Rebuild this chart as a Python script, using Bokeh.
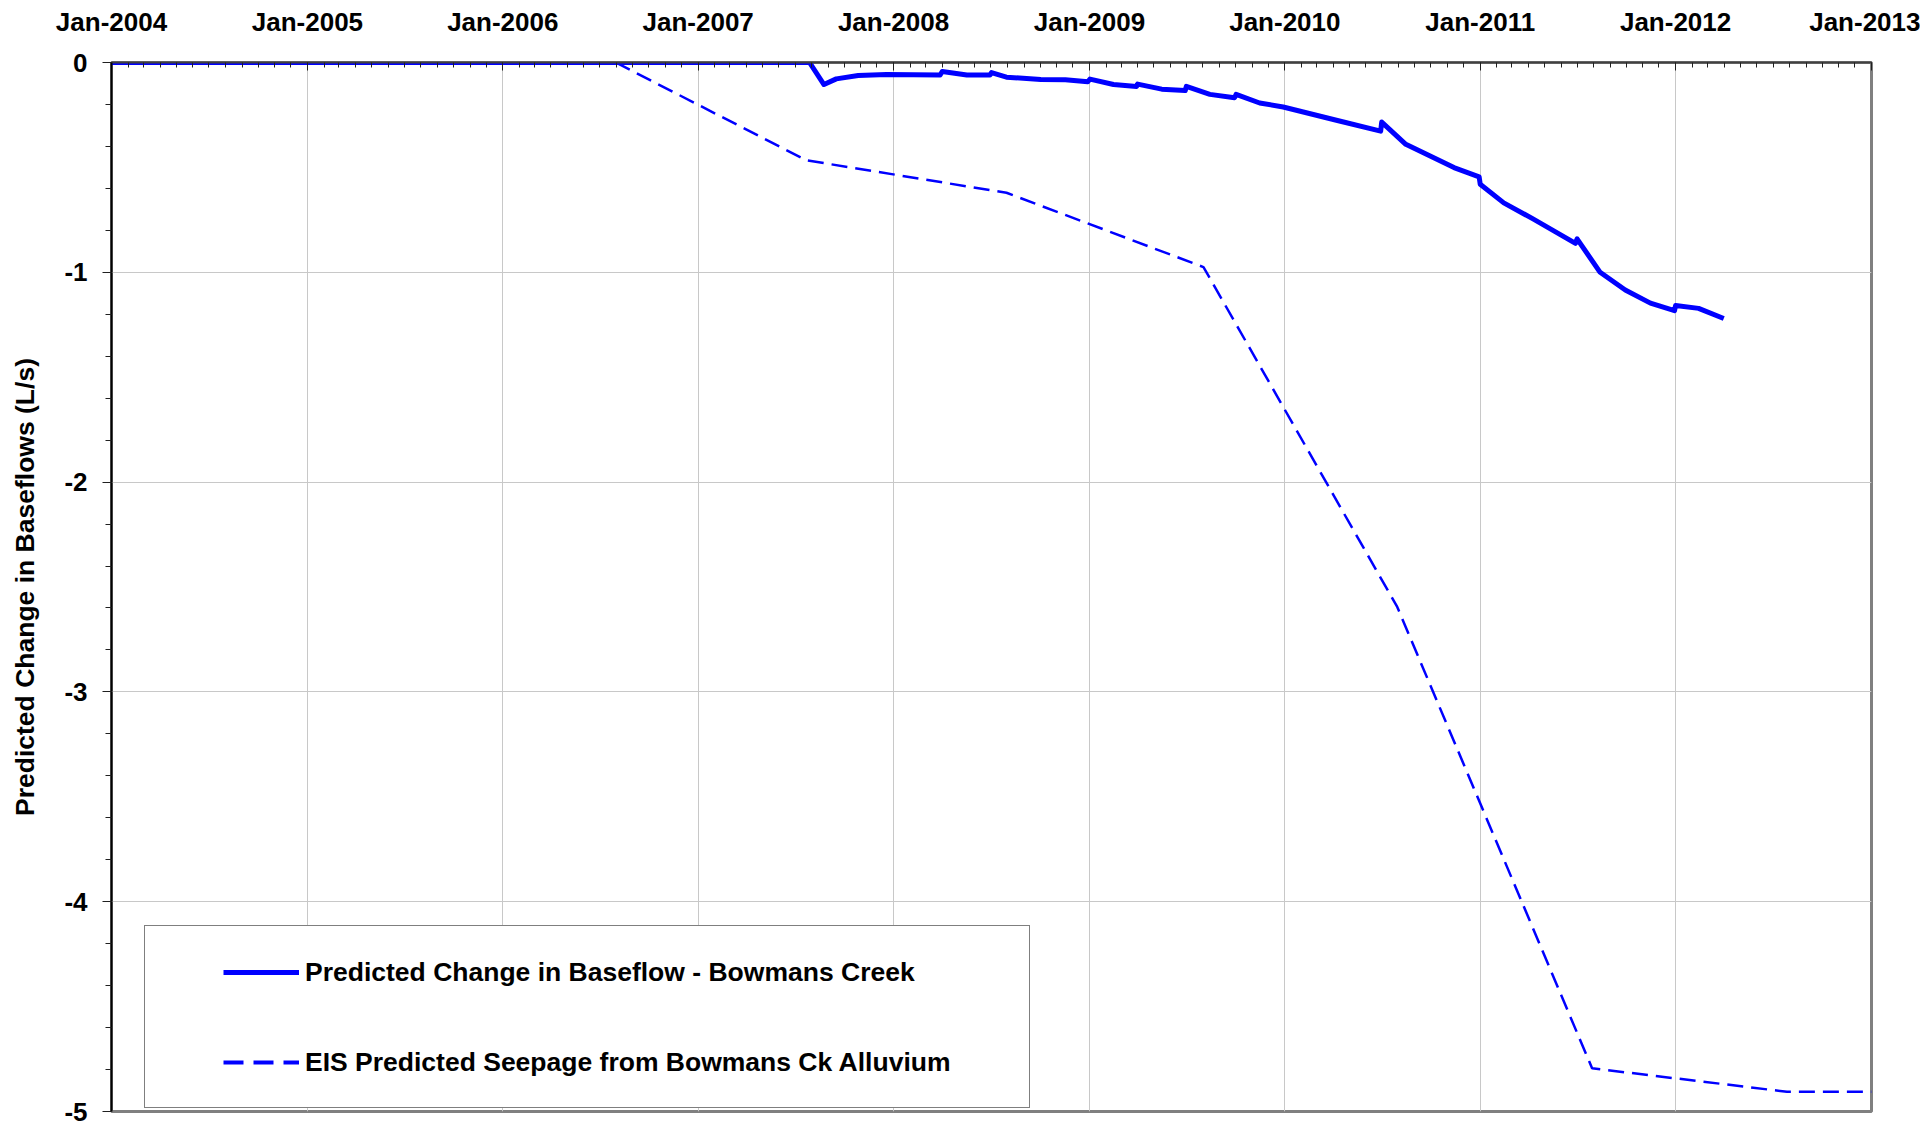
import pandas as pd
from bokeh.plotting import figure
from bokeh.models import (Range1d, FixedTicker, DatetimeAxis, LinearAxis, Grid,
                          Legend, LegendItem, DatetimeTickFormatter)
from bokeh.embed import file_html
from bokeh.resources import INLINE

# ---- data ----
baseflow_dates = [
    "2004-01-01", "2007-07-28", "2007-08-24", "2007-09-16", "2007-10-27", "2007-12-19",
    "2008-03-28", "2008-04-01", "2008-05-17", "2008-06-29", "2008-07-02", "2008-07-30",
    "2008-10-02", "2008-11-17", "2008-12-29", "2009-01-02", "2009-02-15", "2009-03-30",
    "2009-04-01", "2009-05-16", "2009-06-29", "2009-07-01", "2009-08-14", "2009-09-29",
    "2009-10-02", "2009-11-15", "2009-12-29", "2010-04-13", "2010-06-29", "2010-07-01",
    "2010-08-15", "2010-11-13", "2010-12-30", "2011-01-01", "2011-02-14", "2011-04-08",
    "2011-06-28", "2011-07-01", "2011-08-13", "2011-09-29", "2011-11-15", "2011-12-30",
    "2012-01-01", "2012-02-13", "2012-03-31",
]
baseflow_values = [
    0.0, 0.0, -0.105, -0.078, -0.062, -0.057,
    -0.060, -0.043, -0.060, -0.060, -0.048, -0.070,
    -0.081, -0.082, -0.092, -0.079, -0.105, -0.114,
    -0.103, -0.127, -0.134, -0.114, -0.152, -0.168,
    -0.152, -0.193, -0.212, -0.279, -0.327, -0.284,
    -0.390, -0.501, -0.545, -0.580, -0.669, -0.743,
    -0.862, -0.841, -1.000, -1.084, -1.147, -1.183,
    -1.158, -1.172, -1.220,
]

eis_dates = [
    "2004-01-01", "2006-07-31", "2007-07-22", "2008-07-30", "2009-08-02",
    "2010-07-30", "2011-07-29", "2012-07-27", "2013-01-01",
]
eis_values = [0.0, 0.0, -0.466, -0.621, -0.975, -2.595, -4.794, -4.906, -4.906]

tick_years = list(range(2004, 2014))
y_major_ticks = [0, -1, -2, -3, -4, -5]
y_minor_ticks = [round(-0.2 * i, 1) for i in range(26)]

series_names = ["Predicted Change in Baseflow - Bowmans Creek",
                "EIS Predicted Seepage from Bowmans Ck Alluvium"]
y_title = "Predicted Change in Baseflows (L/s)"

# ---- build ----
def ms(ts):
    return pd.Timestamp(ts).value / 1e6

x_major = [ms(f"{y}-01-01") for y in tick_years]
x_minor = [ms(pd.Timestamp(year=y, month=m, day=1)) for y in tick_years[:-1] for m in range(1, 13)] + [x_major[-1]]

FONT = "Liberation Sans"
BLUE = "#0000FF"

p = figure(width=1920, height=1127, output_backend="svg", toolbar_location=None,
           x_axis_type=None, y_axis_type=None,
           x_range=Range1d(pd.Timestamp("2004-01-01"), pd.Timestamp("2013-01-01")),
           y_range=Range1d(-5, 0),
           min_border_left=111, min_border_right=49, min_border_top=62, min_border_bottom=16)
p.background_fill_color = "white"
p.border_fill_color = "white"
p.outline_line_color = "#808080"
p.outline_line_width = 3

xticker = FixedTicker(ticks=x_major, minor_ticks=x_minor)
yticker = FixedTicker(ticks=y_major_ticks, minor_ticks=y_minor_ticks)

p.add_layout(Grid(dimension=0, ticker=xticker, grid_line_color="#c8c8c8", grid_line_width=1))
p.add_layout(Grid(dimension=1, ticker=yticker, grid_line_color="#c8c8c8", grid_line_width=1))

fmt = "%b-%Y"
xaxis = DatetimeAxis(ticker=xticker,
                     formatter=DatetimeTickFormatter(years=fmt, months=fmt, days=fmt, hours=fmt,
                                                     hourmin=fmt, minutes=fmt, minsec=fmt,
                                                     seconds=fmt, milliseconds=fmt, microseconds=fmt))
xaxis.major_label_text_font = FONT
xaxis.major_label_text_font_style = "bold"
xaxis.major_label_text_font_size = "26px"
xaxis.major_label_text_color = "black"
xaxis.major_label_standoff = 26
xaxis.major_tick_in = 8
xaxis.major_tick_out = 0
xaxis.minor_tick_in = 5
xaxis.minor_tick_out = 0
xaxis.axis_line_color = "#404040"
xaxis.axis_line_width = 2
xaxis.major_tick_line_color = "#202020"
xaxis.minor_tick_line_color = "#202020"
p.add_layout(xaxis, "above")

yaxis = LinearAxis(ticker=yticker, axis_label=y_title,
                   major_label_overrides={v: str(v) for v in y_major_ticks})
yaxis.major_label_text_font = FONT
yaxis.major_label_text_font_style = "bold"
yaxis.major_label_text_font_size = "26px"
yaxis.major_label_text_color = "black"
yaxis.major_label_standoff = 15
yaxis.major_tick_out = 9
yaxis.major_tick_in = 0
yaxis.minor_tick_out = 6
yaxis.minor_tick_in = 0
yaxis.axis_line_color = "black"
yaxis.axis_line_width = 2
yaxis.major_tick_line_color = "#202020"
yaxis.minor_tick_line_color = "#202020"
yaxis.axis_label_text_font = FONT
yaxis.axis_label_text_font_style = "bold"
yaxis.axis_label_text_font_size = "26.5px"
yaxis.axis_label_text_color = "black"
yaxis.axis_label_standoff = 21
p.add_layout(yaxis, "left")

r_eis = p.line(x=pd.to_datetime(eis_dates), y=eis_values, line_color=BLUE,
               line_width=2.5, line_dash="16 8")
r_base = p.line(x=pd.to_datetime(baseflow_dates), y=baseflow_values, line_color=BLUE,
                line_width=5, line_join="round")

# legend key for the dashed series is drawn slightly heavier, as in the reference
# (a single-point line: nothing visible in the plot, only used for the key)
r_eis_key = p.line(x=pd.to_datetime(eis_dates[:1]), y=eis_values[:1], line_color=BLUE,
                   line_width=4, line_dash="20 10")

# legend frame (an invisible item only sizes the box)
r_dummy = p.line(x=pd.to_datetime(eis_dates[:1]), y=eis_values[:1], line_alpha=0)
legend_box = Legend(items=[LegendItem(label=" ", renderers=[r_dummy])],
                    location=(33, 3), padding=0, margin=0, spacing=0,
                    glyph_width=884, glyph_height=181, label_width=0, label_height=0,
                    label_standoff=0, label_text_font_size="1px",
                    border_line_color="black", border_line_width=1,
                    background_fill_color="white", background_fill_alpha=1)
p.add_layout(legend_box, "center")

legend_items = Legend(items=[LegendItem(label=series_names[0], renderers=[r_base]),
                             LegendItem(label=series_names[1], renderers=[r_eis_key])],
                      location=(112, 4), padding=0, margin=0, spacing=0,
                      glyph_width=76, glyph_height=90, label_height=90, label_standoff=6,
                      label_text_font=FONT, label_text_font_style="bold",
                      label_text_font_size="26.5px", label_text_color="black",
                      border_line_alpha=0, background_fill_alpha=0)
p.add_layout(legend_items, "center")

open("out.html", "w").write(file_html(p, INLINE))
